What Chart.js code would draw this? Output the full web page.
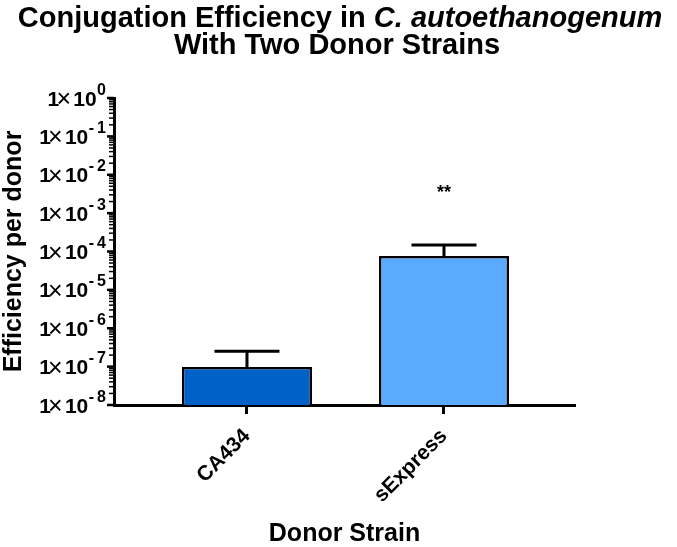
<!DOCTYPE html>
<html><head><meta charset="utf-8">
<script src="https://cdn.jsdelivr.net/npm/chart.js@4/dist/chart.umd.min.js"></script>
<style>html,body{margin:0;padding:0;background:#fff}#wrap{width:677px;height:547px}</style>
</head><body><div id="wrap"><canvas id="c" width="677" height="547"></canvas></div>
<script>
// ---- data ----
const categories = ['CA434', 'sExpress'];
const meanValues = [9.8e-8, 7.6e-5];
const errorUpper = [2.5e-7, 1.48e-4];
const significance = ['', '**'];
const yTickExponents = [0, -1, -2, -3, -4, -5, -6, -7, -8];
const barColors = ['#0062C8', '#5AABFF'];
const titleLine1 = [['Conjugation Efficiency in ', false], ['C. autoethanogenum', true]];
const titleLine2 = 'With Two Donor Strains';
const yAxisTitle = 'Efficiency per donor';
const xAxisTitle = 'Donor Strain';

const FAMILY = "'Liberation Sans', Arial, sans-serif";
Chart.defaults.font.family = FAMILY;
Chart.defaults.color = '#000';

const overlay = {
  id: 'overlay',
  afterDatasetsDraw(chart) {
    const ctx = chart.ctx, y = chart.scales.y, meta = chart.getDatasetMeta(0);
    ctx.save();
    ctx.strokeStyle = '#000'; ctx.lineWidth = 3; ctx.lineCap = 'butt';
    meta.data.forEach((bar, i) => {
      const x = bar.x, w = bar.width;
      const top = y.getPixelForValue(meanValues[i]);
      const eY = y.getPixelForValue(errorUpper[i]);
      ctx.beginPath();
      ctx.moveTo(x, top); ctx.lineTo(x, eY);
      ctx.moveTo(x - w / 4, eY); ctx.lineTo(x + w / 4, eY);
      ctx.stroke();
      if (significance[i]) {
        ctx.fillStyle = '#000';
        ctx.font = 'bold 18px ' + FAMILY;
        ctx.textAlign = 'center'; ctx.textBaseline = 'alphabetic';
        ctx.fillText(significance[i], x, eY - 47);
      }
    });
    ctx.restore();
  },
  afterDraw(chart) {
    const ctx = chart.ctx, y = chart.scales.y;
    const axisX = chart.chartArea.left;
    ctx.save();
    ctx.strokeStyle = '#000'; ctx.fillStyle = '#000';
    // minor ticks
    ctx.lineWidth = 1.5;
    for (let e = -8; e < 0; e++) {
      for (let m = 2; m <= 9; m++) {
        const p = y.getPixelForValue(m * Math.pow(10, e));
        ctx.beginPath(); ctx.moveTo(axisX - 5, p); ctx.lineTo(axisX, p); ctx.stroke();
      }
    }
    // major ticks + labels
    const R = 106;
    const fBold = 'bold 21px ' + FAMILY, fNorm = '25px ' + FAMILY, fExp = 'bold 16px ' + FAMILY;
    yTickExponents.forEach(e => {
      const p = y.getPixelForValue(Math.pow(10, e));
      ctx.lineWidth = 2.5;
      ctx.beginPath(); ctx.moveTo(axisX - 7, p); ctx.lineTo(axisX, p); ctx.stroke();
      const neg = e < 0;
      const digits = String(Math.abs(e));
      ctx.textBaseline = 'alphabetic';
      // exponent
      ctx.font = fExp;
      const wD = ctx.measureText(digits).width;
      ctx.textAlign = 'right';
      ctx.fillText(digits, R, p - 3.5);
      let expLeft = R - wD;
      if (neg) {
        const wS = ctx.measureText('-').width;
        ctx.fillText('-', expLeft - 3, p - 3.5);
        expLeft = expLeft - 3 - wS;
      }
      const base = p + 7.5;
      // "10"
      ctx.font = fBold;
      const tenRight = expLeft - 0.5;
      ctx.fillText('10', tenRight, base);
      const tenLeft = tenRight - ctx.measureText('10').width;
      // times sign
      const xCenter = tenLeft - 9.5;
      ctx.font = fNorm; ctx.textAlign = 'center';
      ctx.fillText('\u00D7', xCenter, p + 9);
      // "1"
      ctx.font = fBold; ctx.textAlign = 'right';
      ctx.fillText('1', xCenter - 4.5, base);
    });
    // title
    ctx.textBaseline = 'alphabetic'; ctx.textAlign = 'left';
    const cx = 340;
    const tFont = 'bold 29px ' + FAMILY;
    let total = 0;
    titleLine1.forEach(([t, it]) => { ctx.font = (it ? 'italic ' : '') + tFont; total += ctx.measureText(t).width; });
    let tx = cx - total / 2;
    titleLine1.forEach(([t, it]) => { ctx.font = (it ? 'italic ' : '') + tFont; ctx.fillText(t, tx, 27); tx += ctx.measureText(t).width; });
    ctx.font = tFont; ctx.textAlign = 'center';
    ctx.fillText(titleLine2, 337, 54);
    ctx.restore();
  }
};

new Chart(document.getElementById('c'), {
  type: 'bar',
  data: {
    datasets: [{
      data: categories.map((c, i) => ({ x: i, y: meanValues[i] })),
      backgroundColor: barColors,
      borderColor: '#000',
      borderWidth: 2.5,
      barPercentage: 0.66,
      categoryPercentage: 1
    }]
  },
  options: {
    responsive: false,
    animation: false,
    devicePixelRatio: 1,
    layout: { padding: { top: 98, right: 102, left: 0, bottom: 0 } },
    plugins: { legend: { display: false }, title: { display: false }, tooltip: { enabled: false } },
    scales: {
      x: {
        type: 'linear', min: -0.675, max: 1.665, offset: false,
        afterBuildTicks: s => { s.ticks = categories.map((c, i) => ({ value: i })); },
        afterFit: s => { s.height = 547 - 405; },
        ticks: {
          callback: v => categories[v] !== undefined ? categories[v] : '',
          minRotation: 45, maxRotation: 45, autoSkip: false,
          font: { size: 21, weight: 'bold' }, color: '#000', padding: 10
        },
        grid: { display: true, offset: false, drawOnChartArea: false, drawTicks: true, tickLength: 9, tickWidth: 3, tickColor: '#000', color: '#000' },
        border: { display: true, width: 3, color: '#000' },
        title: { display: true, text: xAxisTitle, color: '#000', font: { size: 25, weight: 'bold', lineHeight: 1 }, padding: { top: 0, bottom: 0 } }
      },
      y: {
        type: 'logarithmic', min: 1e-8, max: 1, position: 'left',
        afterFit: s => { s.width = 114; },
        ticks: { display: false },
        grid: { display: false },
        border: { display: true, width: 3, color: '#000' },
        title: { display: true, text: yAxisTitle, color: '#000', font: { size: 25, weight: 'bold', lineHeight: 1 }, padding: { top: 2, bottom: 0 } }
      }
    }
  },
  plugins: [overlay]
});
</script></body></html>
